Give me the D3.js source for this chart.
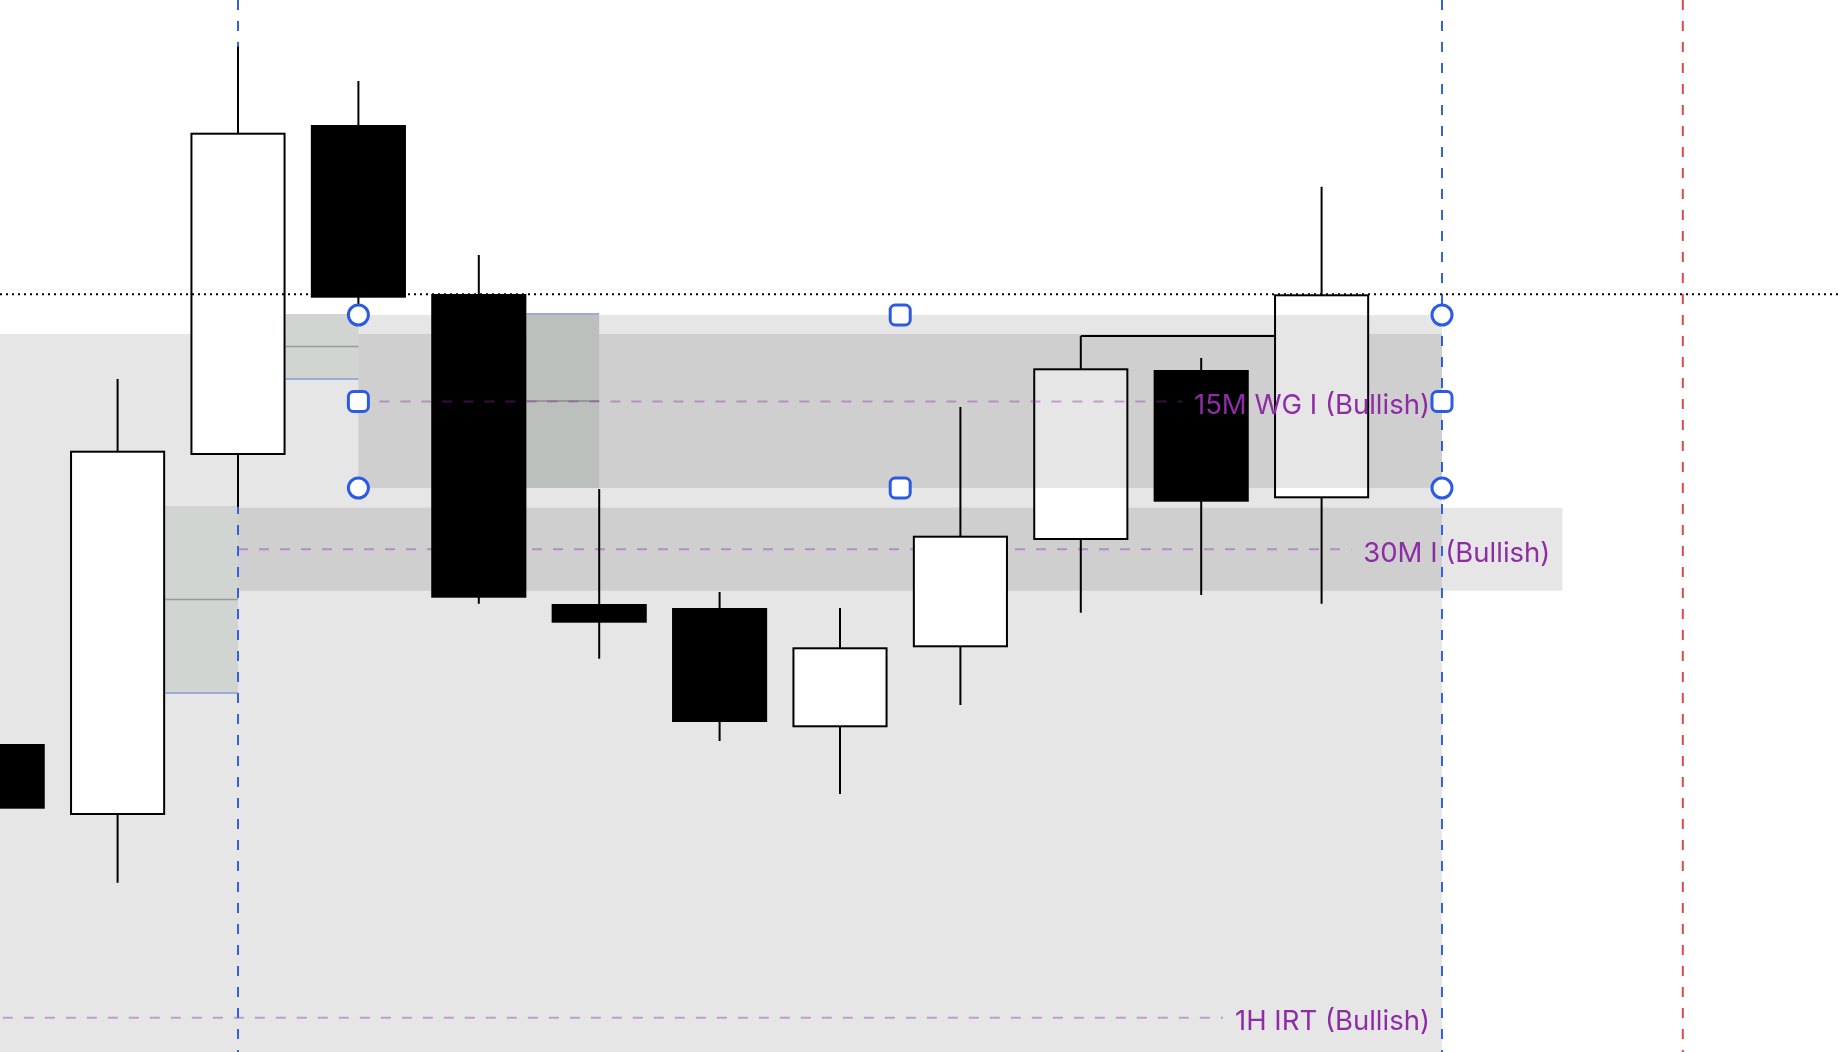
<!DOCTYPE html>
<html>
<head>
<meta charset="utf-8">
<script src="https://cdn.jsdelivr.net/npm/d3@7"></script>
<style>
    html, body { margin: 0; padding: 0; background: #fff; overflow: hidden; }
    .zone { mix-blend-mode: multiply; }
</style>
</head>
<body>
<svg id="chart" width="1838" height="1052"></svg>
<script>
// candles, index 0..11 (prices)
let candleOpen  = [2325.60, 2318.50, 2354.50, 2387.50, 2370.60, 2339.60, 2339.20, 2327.27, 2335.27, 2346.00, 2363.00, 2350.17];
let candleHigh  = [2327.00, 2362.10, 2395.33, 2391.90, 2374.50, 2351.10, 2340.80, 2339.20, 2359.30, 2366.40, 2364.20, 2381.33];
let candleLow   = [2317.00, 2311.73, 2349.33, 2369.50, 2339.63, 2334.13, 2325.90, 2320.60, 2329.50, 2338.73, 2340.50, 2339.63];
let candleClose = [2319.13, 2354.93, 2386.73, 2370.23, 2340.23, 2337.73, 2327.80, 2335.27, 2346.43, 2363.17, 2349.83, 2370.57];

// zones drawn on the chart
let zoneNames  = ["1H IRT (Bullish)", "30M I (Bullish)", "15M WG I (Bullish)"];
let zoneStart  = [-1, 2, 3];
let zoneEnd    = [12, 13, 12];
let zoneTop    = [2366.60, 2349.23, 2368.50];
let zoneBottom = [2229.87, 2340.93, 2351.20];

// small gap boxes: from body edge of candle gapFrom to centre of candle gapTo
let gapFrom   = [1, 2, 4];
let gapTo     = [2, 3, 5];
let gapTop    = [2349.40, 2368.60, 2368.60];
let gapBottom = [2330.70, 2362.10, 2351.20];
let gapEdge   = ["bottom", "bottom", "top"];

// vertical markers
let blueMarks = [2, 12];
let redMarks  = [14];

// horizontal level from high of candle 9 to candle 11
let levelFrom = 9;
let levelTo   = 11;

let width = 1838, height = 1052;
let svg = d3.select("#chart");

let x = d3.scaleLinear().domain([2, 12]).range([238, 1442]);
let y = d3.scaleLinear().domain([2400, 2294.8]).range([0, height]);
let step = x(1) - x(0);
let bw = step * 0.79;

let purple = "rgb(142,44,166)";
let handleBlue = "#2c5be3";

svg.append("rect").attr("width", width).attr("height", height).attr("fill", "#fff");

let labelFont = "Inter, Roboto, 'Noto Sans', sans-serif";

function drawZone(g, i) {
    let x0 = x(zoneStart[i]), x1 = x(zoneEnd[i]);
    let top = y(zoneTop[i]), bot = y(zoneBottom[i]);
    let mid = y((zoneTop[i] + zoneBottom[i]) / 2);
    g.append("rect")
        .attr("class", "zone")
        .attr("x", x0).attr("y", top)
        .attr("width", x1 - x0).attr("height", bot - top)
        .attr("fill", "#e6e6e6");
    let line = g.append("line")
        .attr("x1", x0).attr("y1", mid).attr("y2", mid)
        .attr("stroke", "rgba(142,36,170,0.38)")
        .attr("stroke-width", 2)
        .attr("stroke-dasharray", "10,11");
    let label = g.append("text")
        .attr("x", x1 - 12)
        .attr("y", mid + 12.7)
        .attr("text-anchor", "end")
        .attr("font-family", labelFont)
        .attr("font-size", 27.5)
        .attr("fill", purple)
        .text(zoneNames[i]);
    let tw = label.node().getComputedTextLength();
    line.attr("x2", x1 - 12 - tw - 12);
    return {x0: x0, x1: x1, top: top, bot: bot, mid: mid};
}

// 1H and 30M zones sit under the candles
let under = svg.append("g");
drawZone(under, 0);
drawZone(under, 1);

// gap boxes
let gaps = svg.append("g");
for (let i = 0; i < gapFrom.length; i++) {
    let gx0 = x(gapFrom[i]) + bw / 2, gx1 = x(gapTo[i]);
    let gt = y(gapTop[i]), gb = y(gapBottom[i]);
    gaps.append("rect")
        .attr("x", gx0).attr("y", gt)
        .attr("width", gx1 - gx0).attr("height", gb - gt)
        .attr("fill", "#d0d5d1");
    gaps.append("line")
        .attr("x1", gx0).attr("x2", gx1)
        .attr("y1", (gt + gb) / 2).attr("y2", (gt + gb) / 2)
        .attr("stroke", "#989c99").attr("stroke-width", 1.5);
    let ey = gapEdge[i] == "top" ? gt : gb;
    gaps.append("line")
        .attr("x1", gx0).attr("x2", gx1)
        .attr("y1", ey).attr("y2", ey)
        .attr("stroke", "#9cacd8").attr("stroke-width", 2);
}

// vertical markers
let marks = svg.append("g");
marks.selectAll(".blue").data(blueMarks).enter().append("line")
    .attr("x1", d => x(d)).attr("x2", d => x(d))
    .attr("y1", 0).attr("y2", height)
    .attr("stroke", "#3561e0").attr("stroke-width", 2)
    .attr("stroke-dasharray", "10,11");
marks.selectAll(".red").data(redMarks).enter().append("line")
    .attr("x1", d => x(d)).attr("x2", d => x(d))
    .attr("y1", 0).attr("y2", height)
    .attr("stroke", "#dc4848").attr("stroke-width", 2)
    .attr("stroke-dasharray", "10,11");

// candles
let candles = d3.range(candleOpen.length);
let cg = svg.append("g");
cg.selectAll("line.wick").data(candles).enter().append("line")
    .attr("class", "wick")
    .attr("x1", d => x(d)).attr("x2", d => x(d))
    .attr("y1", d => y(candleHigh[d])).attr("y2", d => y(candleLow[d]))
    .attr("stroke", "#000").attr("stroke-width", 2);
cg.selectAll("rect.body").data(candles).enter().append("rect")
    .attr("class", "body")
    .attr("x", d => x(d) - bw / 2 + 1)
    .attr("width", bw - 2)
    .attr("y", d => y(Math.max(candleOpen[d], candleClose[d])) + 1)
    .attr("height", d => Math.abs(y(candleOpen[d]) - y(candleClose[d])) - 2)
    .attr("fill", d => candleClose[d] >= candleOpen[d] ? "#fff" : "#000")
    .attr("stroke", "#000").attr("stroke-width", 2);

// level line from candle 9 high
cg.append("line")
    .attr("x1", x(levelFrom)).attr("x2", x(levelTo) - bw / 2)
    .attr("y1", y(candleHigh[levelFrom])).attr("y2", y(candleHigh[levelFrom]))
    .attr("stroke", "#000").attr("stroke-width", 2);

// last price dotted line
let last = candleClose[candleClose.length - 1];
svg.append("line")
    .attr("x1", 0).attr("x2", width)
    .attr("y1", y(last)).attr("y2", y(last))
    .attr("stroke", "#000").attr("stroke-width", 2)
    .attr("stroke-dasharray", "2,4");

// selected 15M zone on top, with its handles
let over = svg.append("g");
let z15 = drawZone(over, 2);
let xm = (z15.x0 + z15.x1) / 2;
let handles = [
    [z15.x0, z15.top, "c"], [xm, z15.top, "s"], [z15.x1, z15.top, "c"],
    [z15.x0, z15.mid, "s"], [z15.x1, z15.mid, "s"],
    [z15.x0, z15.bot, "c"], [xm, z15.bot, "s"], [z15.x1, z15.bot, "c"]
];
handles.forEach(function(h) {
    if (h[2] == "c") {
        over.append("circle")
            .attr("cx", h[0]).attr("cy", h[1]).attr("r", 10)
            .attr("fill", "#fff").attr("stroke", handleBlue).attr("stroke-width", 3);
    } else {
        over.append("rect")
            .attr("x", h[0] - 10).attr("y", h[1] - 10)
            .attr("width", 20).attr("height", 20).attr("rx", 5)
            .attr("fill", "#fff").attr("stroke", handleBlue).attr("stroke-width", 3);
    }
});
</script>
</body>
</html>
